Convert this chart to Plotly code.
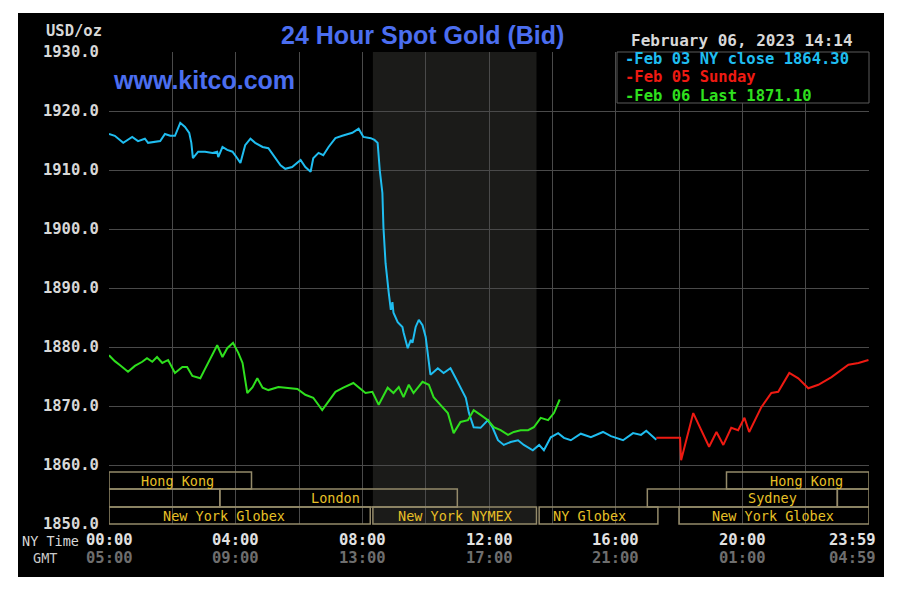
import plotly.graph_objects as go

# ---------------- data (minutes after NY midnight, USD/oz bid) ----------------
feb03_min = [0, 11, 27, 44, 55, 68, 74, 87, 97, 106, 116, 125, 135, 144, 152, 156, 159, 169, 182, 196,
             205, 207, 215, 224, 234, 243, 249, 258, 268, 277, 291, 302, 315, 325, 334, 347, 363, 372, 382, 387,
             397, 406, 416, 429, 442, 461, 473, 482, 496, 503, 509, 513, 518, 520, 524, 528, 530, 534, 537, 539,
             547, 556, 558, 566, 572, 575, 581, 587, 594, 600, 606, 609, 613, 623, 634, 647, 657, 666, 676, 682,
             691, 704, 718, 727, 737, 748, 761, 775, 786, 803, 815, 824, 837, 851, 862, 875, 894, 913, 936, 951,
             974, 993, 1008, 1018, 1027, 1037]
feb03_px = [1916.1, 1915.8, 1914.6, 1915.6, 1914.9, 1915.3, 1914.6, 1914.7, 1914.9, 1916.1, 1915.8, 1915.8, 1918.0,
            1917.3, 1916.3, 1914.6, 1912.0, 1913.1, 1913.1, 1912.9, 1913.1, 1912.2, 1913.9, 1913.4, 1913.1, 1912.0,
            1911.2, 1914.2, 1915.3, 1914.6, 1913.9, 1913.7, 1912.0, 1910.8, 1910.2, 1910.5, 1911.7, 1910.5, 1909.7,
            1912.0, 1912.9, 1912.5, 1913.9, 1915.4, 1915.8, 1916.3, 1917.0, 1915.6, 1915.4, 1915.1, 1914.6, 1910.0,
            1906.1, 1900.3, 1894.2, 1890.2, 1889.2, 1886.3, 1887.6, 1885.8, 1884.2, 1883.4, 1882.5, 1879.8, 1881.2,
            1880.7, 1883.4, 1884.6, 1883.7, 1881.7, 1877.8, 1875.3, 1875.6, 1876.4, 1875.6, 1876.4, 1874.7, 1873.2,
            1871.4, 1868.8, 1866.4, 1866.3, 1867.6, 1866.3, 1864.2, 1863.4, 1863.9, 1864.2, 1863.4, 1862.5, 1863.4,
            1862.5, 1864.7, 1865.4, 1864.6, 1864.2, 1865.3, 1864.7, 1865.6, 1864.9, 1864.2, 1865.4, 1865.1, 1865.8,
            1865.1, 1864.3]

feb05_min = [1037, 1082, 1084, 1107, 1137, 1151, 1164, 1179, 1192, 1204, 1213, 1236, 1255, 1268, 1289, 1306,
             1325, 1344, 1369, 1401, 1420, 1439]
feb05_px = [1864.6, 1864.6, 1860.8, 1868.8, 1863.1, 1865.6, 1863.4, 1866.3, 1865.9, 1868.0, 1865.6, 1869.8,
            1872.2, 1872.4, 1875.6, 1874.7, 1873.0, 1873.6, 1874.9, 1877.0, 1877.3, 1877.8]

feb06_min = [0, 11, 21, 36, 49, 63, 72, 82, 91, 101, 112, 125, 139, 148, 158, 173, 182, 192, 205, 215, 224, 235,
             245, 253, 262, 272, 281, 291, 302, 321, 338, 357, 372, 387, 404, 414, 429, 444, 463, 486, 499, 511,
             528, 539, 549, 558, 568, 577, 594, 606, 615, 628, 642, 653, 666, 680, 691, 704, 718, 729, 742, 756,
             767, 780, 794, 805, 818, 832, 843, 854]
feb06_px = [1878.6, 1877.6, 1876.9, 1875.8, 1876.8, 1877.5, 1878.1, 1877.5, 1878.3, 1877.3, 1877.8, 1875.6, 1876.6,
            1876.6, 1875.1, 1874.7, 1876.3, 1878.1, 1880.3, 1878.3, 1879.8, 1880.7, 1879.0, 1877.3, 1872.2, 1873.2,
            1874.7, 1873.1, 1872.7, 1873.2, 1873.1, 1872.9, 1871.9, 1871.4, 1869.3, 1870.5, 1872.4, 1873.1, 1873.9,
            1872.2, 1872.4, 1870.2, 1873.1, 1872.2, 1873.2, 1871.5, 1873.6, 1872.2, 1874.1, 1873.6, 1871.5, 1870.2,
            1868.8, 1865.4, 1867.3, 1867.6, 1869.3, 1868.5, 1867.6, 1866.4, 1865.9, 1865.1, 1865.6, 1865.9, 1865.9,
            1866.4, 1868.0, 1867.6, 1868.8, 1871.1]

legend_texts = ["-Feb 03 NY close 1864.30", "-Feb 05 Sunday", "-Feb 06 Last 1871.10"]

y_ticks = [1850, 1860, 1870, 1880, 1890, 1900, 1910, 1920, 1930]
tick_minutes = [0, 240, 480, 720, 960, 1200, 1439]
ny_labels = ["00:00", "04:00", "08:00", "12:00", "16:00", "20:00", "23:59"]
gmt_labels = ["05:00", "09:00", "13:00", "17:00", "21:00", "01:00", "04:59"]
grid_minutes = list(range(0, 1441, 120))

sess_names = ["Hong Kong", "Hong Kong", "", "London", "Sydney", "",
              "New York Globex", "New York NYMEX", "NY Globex", "New York Globex"]
sess_start = [0, 1170, 0, 210, 1020, 1380, 0, 500, 815, 1080]
sess_end = [270, 1440, 210, 660, 1380, 1440, 495, 810, 1040, 1440]
sess_row = [0, 0, 1, 1, 1, 1, 2, 2, 2, 2]
sess_label_at = [129, 1321, None, 430, 1258, None, 218, 656, 911, 1258]
nymex_shade = (500, 810)

# ---------------- layout geometry ----------------
W, H = 897, 595
L, R, T, B = 109, 28, 52, 71
PW, PH = W - L - R, H - T - B


def px_x(px):
    return (px - L) / PW


def px_y(py):
    return (H - B - py) / PH


MONO = "DejaVu Sans Mono"
CYAN, RED, GREEN = "#1fbdf0", "#ee1a12", "#2fe01e"
GRID = "#4a4a4a"
BOX = "#948a6a"
GOLD = "#e8c027"

fig = go.Figure()
for xs, ys, col in [(feb03_min, feb03_px, CYAN), (feb05_min, feb05_px, RED), (feb06_min, feb06_px, GREEN)]:
    fig.add_trace(go.Scatter(x=xs, y=ys, mode="lines", line=dict(color=col, width=2), hoverinfo="skip"))

shapes = [
    # black panel
    dict(type="rect", xref="paper", yref="paper", x0=px_x(18), x1=px_x(884), y0=px_y(577), y1=px_y(13),
         fillcolor="#000000", line=dict(width=0), layer="below"),
    # NYMEX shaded period
    dict(type="rect", xref="x", yref="paper", x0=nymex_shade[0], x1=nymex_shade[1], y0=0, y1=1,
         fillcolor="#1b1b19", line=dict(width=0), layer="below"),
    # legend box
    dict(type="rect", xref="paper", yref="paper", x0=px_x(617), x1=1.0, y0=px_y(103), y1=1.0,
         fillcolor="#000000", line=dict(color="#5a5a5a", width=1), layer="above"),
]

row_px = [(472, 489), (489, 507), (507, 524)]
annotations = []
for name, s, e, r, lab in zip(sess_names, sess_start, sess_end, sess_row, sess_label_at):
    top, bot = row_px[r]
    shapes.append(dict(type="rect", xref="x", yref="paper", x0=s, x1=e, y0=px_y(bot), y1=px_y(top),
                       fillcolor="rgba(0,0,0,0)", line=dict(color=BOX, width=1.5), layer="above"))
    if name:
        annotations.append(dict(x=lab, y=px_y((top + bot) / 2), xref="x", yref="paper", text=name,
                                showarrow=False, xanchor="center", yanchor="middle",
                                font=dict(family=MONO, size=13.5, color=GOLD)))

# x tick labels (NY time / GMT)
for i, (m, ny, gmt) in enumerate(zip(tick_minutes, ny_labels, gmt_labels)):
    last = i == len(tick_minutes) - 1
    anc = "right" if last else "center"
    sh = 10 if last else 0
    annotations.append(dict(x=m, y=px_y(540), xref="x", yref="paper", text=ny, showarrow=False,
                            xanchor=anc, yanchor="middle", xshift=sh,
                            font=dict(family=MONO, size=15.5, color="#e2e2e2", weight="bold")))
    annotations.append(dict(x=m, y=px_y(558), xref="x", yref="paper", text=gmt, showarrow=False,
                            xanchor=anc, yanchor="middle", xshift=sh,
                            font=dict(family=MONO, size=15.5, color="#6e6e6e", weight="bold")))

annotations += [
    dict(x=px_x(81), y=px_y(541), xref="paper", yref="paper", text="NY Time", showarrow=False,
         xanchor="right", yanchor="middle", font=dict(family=MONO, size=13.5, color="#d8d8d8")),
    dict(x=px_x(45), y=px_y(558), xref="paper", yref="paper", text="GMT", showarrow=False,
         xanchor="center", yanchor="middle", font=dict(family=MONO, size=13.5, color="#c8c8c8")),
    dict(x=px_x(104), y=px_y(31), xref="paper", yref="paper", text="USD/oz", showarrow=False,
         xanchor="right", yanchor="middle", font=dict(family=MONO, size=15.5, color="#d8d8d8", weight="bold")),
    dict(x=px_x(422), y=px_y(35), xref="paper", yref="paper", text="24 Hour Spot Gold (Bid)", showarrow=False,
         xanchor="center", yanchor="middle",
         font=dict(family="Liberation Sans", size=25, color="#4b6ef0", weight="bold")),
    dict(x=px_x(111), y=px_y(80), xref="paper", yref="paper", text="www.kitco.com", showarrow=False,
         xanchor="left", yanchor="middle",
         font=dict(family="Liberation Sans", size=25, color="#4b6ef0", weight="bold")),
    dict(x=px_x(855), y=px_y(41), xref="paper", yref="paper", text="February 06, 2023 14:14", showarrow=False,
         xanchor="right", yanchor="middle", font=dict(family=MONO, size=16, color="#d8d8d8", weight="bold")),
]
for txt, col, py in zip(legend_texts, [CYAN, RED, GREEN], [59, 77, 95]):
    annotations.append(dict(x=px_x(623), y=px_y(py), xref="paper", yref="paper", text=txt, showarrow=False,
                            xanchor="left", yanchor="middle", height=17, valign="middle",
                            font=dict(family=MONO, size=15.5, color=col, weight="bold")))

fig.update_layout(
    width=W, height=H, autosize=False,
    margin=dict(l=L, r=R, t=T, b=B, pad=0),
    paper_bgcolor="#ffffff", plot_bgcolor="#000000",
    showlegend=False,
    shapes=shapes, annotations=annotations,
    xaxis=dict(range=[0, 1440], tickvals=grid_minutes, showticklabels=False, ticks="",
               showgrid=True, gridcolor=GRID, gridwidth=1, zeroline=False, showline=False, fixedrange=True),
    yaxis=dict(range=[1850, 1930], tickvals=y_ticks, tickformat=".1f", ticks="outside", ticklen=6,
               tickcolor="rgba(0,0,0,0)", showgrid=True, gridcolor=GRID, gridwidth=1, zeroline=False,
               showline=False, fixedrange=True,
               tickfont=dict(family=MONO, size=15.5, color="#d8d8d8", weight="bold")),
)

fig.write_html("out.html")
